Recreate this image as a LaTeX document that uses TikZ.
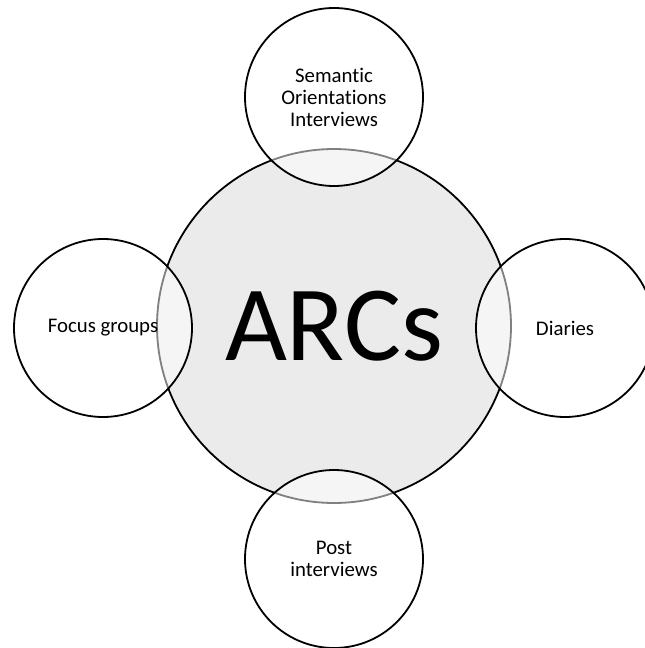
\documentclass[tikz,border=0pt]{standalone}
\usepackage{fontspec}
\setmainfont{Carlito}[Ligatures=NoCommon]
\begin{document}
\begin{tikzpicture}[x=1pt,y=-1pt,
  hub/.style={circle, draw=black, line width=1.8pt, fill={rgb,255:red,235;green,235;blue,235},
    minimum size=354pt, inner sep=0pt, font=\fontsize{107}{110}\selectfont},
  spoke/.style={circle, draw=black, line width=1.8pt, fill=white, fill opacity=0.5, text opacity=1,
    minimum size=178pt, inner sep=0pt, align=center, font=\fontsize{20.8}{22}\selectfont}]
  \useasboundingbox (0,0) rectangle (645,648);
  \clip (0,0) rectangle (645,648);
  % central hub
  \node[hub] (arcs) at (334,326) {ARCs};
  % four overlapping methods
  \node[spoke] (sem) at (334,97) {Semantic\\Orientations\\Interviews};
  \node[spoke] (focus) at (103,328) {Focus groups};
  \node[spoke] (diar) at (565,328) {Diaries};
  \node[spoke] (post) at (334,559) {Post\\interviews};
\end{tikzpicture}
\end{document}
